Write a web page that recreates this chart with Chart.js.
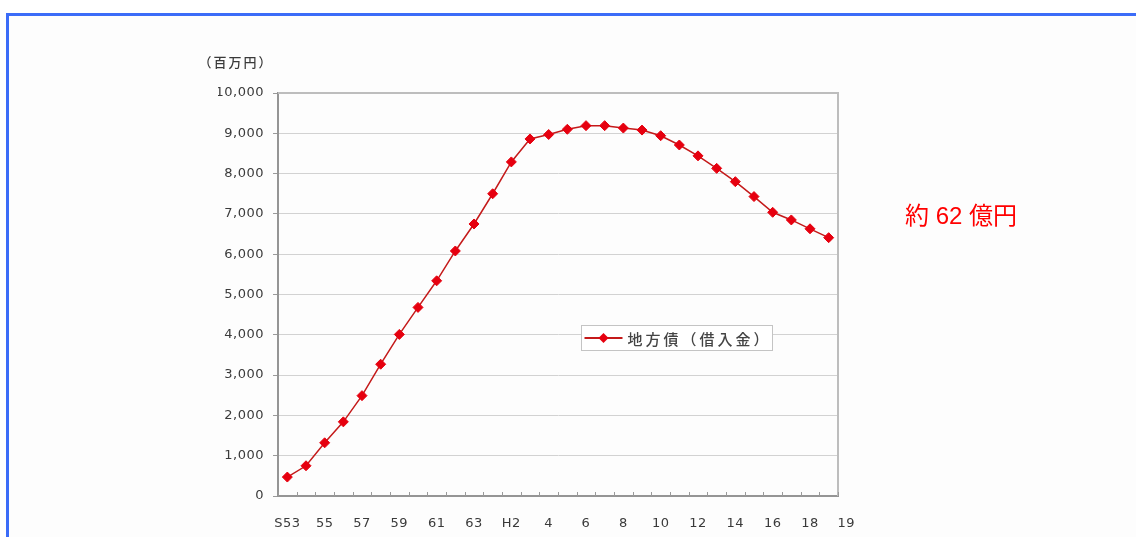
<!DOCTYPE html>
<html lang="ja">
<head>
<meta charset="utf-8">
<title>地方債（借入金）残高の推移</title>
<script src="https://cdn.jsdelivr.net/npm/chart.js@4.4.1/dist/chart.umd.min.js"></script>
<style>
  html, body { margin: 0; padding: 0; background: #fff; }
  body { width: 1136px; height: 537px; position: relative; overflow: hidden; }
  .panel {
    position: absolute; left: 6px; top: 13px; right: 0; bottom: 0;
    border-top: 3px solid #3b6cf8; border-left: 3px solid #3b6cf8;
    background: #fdfdfd;
  }
  .chart-box { position: absolute; left: 0; top: 0; width: 1136px; height: 537px; }
  .chart-box canvas { filter: blur(0.55px); }
  .note {
    position: absolute; left: 905px; top: 200px;
    font: 24px "Liberation Sans", "Noto Sans CJK JP", sans-serif;
    line-height: 32px; color: #f00; white-space: nowrap;
  }
</style>
</head>
<body>
<div class="panel"></div>
<div class="chart-box"><canvas id="debtChart"></canvas></div>
<div class="note">約 62 億円</div>

<script>
// Fiscal years S53 (1978) through H19 (2007)
const categories = ['S53','S54','S55','S56','S57','S58','S59','S60','S61','S62','S63',
  'H1','H2','H3','H4','H5','H6','H7','H8','H9','H10','H11','H12','H13','H14','H15',
  'H16','H17','H18','H19'];

// Labels printed under the axis (every other year, plus the last one pushed right)
const tickLabels = ['S53','','55','','57','','59','','61','','63','','H2','','4','',
  '6','','8','','10','','12','','14','','16','','18','\u2007\u2007\u2007\u200719'];

// Outstanding local bonds, million yen
const debtValues = [470, 750, 1320, 1840, 2490, 3270, 4010, 4680, 5340, 6080, 6750,
  7500, 8290, 8860, 8970, 9100, 9190, 9190, 9130, 9080, 8940, 8710, 8440, 8130,
  7800, 7430, 7040, 6850, 6630, 6410];

const seriesName = '地方債（借入金）';
const unitLabel = '（百万円）';
const yMin = 0, yMax = 10000, yStep = 1000;

const TEXT = '#3a3a3a';
const TICK_FONT = { family: '"DejaVu Sans", sans-serif', size: 13 };

// Slightly wider glyph spacing for the axis text
const textSpacing = {
  id: 'textSpacing',
  beforeDraw(chart) { chart.ctx.letterSpacing = '0.5px'; }
};

// Top/right frame of the plot area and inward tick marks on the category axis
const plotFrame = {
  id: 'plotFrame',
  beforeDatasetsDraw(chart) {
    const { ctx, chartArea: a, scales: { x } } = chart;
    ctx.save();
    ctx.strokeStyle = '#bdbdbd';
    ctx.lineWidth = 2;
    ctx.beginPath();
    ctx.moveTo(a.left, a.top);
    ctx.lineTo(a.right, a.top);
    ctx.lineTo(a.right, a.bottom);
    ctx.stroke();

    ctx.strokeStyle = '#9a9a9a';
    ctx.lineWidth = 1;
    ctx.beginPath();
    const n = chart.data.labels.length;
    for (let i = 0; i <= n; i++) {
      let px;
      if (i === 0) px = a.left;
      else if (i === n) px = a.right;
      else px = (x.getPixelForValue(i - 1) + x.getPixelForValue(i)) / 2;
      px = Math.round(px) + 0.5;
      ctx.moveTo(px, a.bottom);
      ctx.lineTo(px, a.bottom - 4);
    }
    ctx.stroke();
    ctx.restore();
  }
};

// Boxed legend inside the plot, plus the unit caption above the value axis
const boxLegend = {
  id: 'boxLegend',
  afterDraw(chart) {
    const { ctx, chartArea: a } = chart;
    const ds = chart.data.datasets[0];
    const left = a.left + 303.5, top = a.top + 232.5, w = 191, h = 25;
    const cy = top + h / 2;
    ctx.save();
    ctx.fillStyle = '#fff';
    ctx.fillRect(left, top, w, h);
    ctx.strokeStyle = '#c4c4c4';
    ctx.lineWidth = 1;
    ctx.strokeRect(left, top, w, h);

    ctx.strokeStyle = ds.borderColor;
    ctx.lineWidth = 2;
    ctx.beginPath();
    ctx.moveTo(left + 3, cy);
    ctx.lineTo(left + 41, cy);
    ctx.stroke();

    const mx = left + 22, r = 5;
    ctx.fillStyle = ds.pointBackgroundColor;
    ctx.beginPath();
    ctx.moveTo(mx, cy - r);
    ctx.lineTo(mx + r, cy);
    ctx.lineTo(mx, cy + r);
    ctx.lineTo(mx - r, cy);
    ctx.closePath();
    ctx.fill();

    ctx.letterSpacing = '3px';
    ctx.font = '500 15px "Noto Sans CJK JP", sans-serif';
    ctx.fillStyle = '#444';
    ctx.textBaseline = 'middle';
    ctx.textAlign = 'left';
    ctx.fillText(ds.label, left + 46, cy + 1);

    ctx.letterSpacing = '2px';
    ctx.font = '500 13px "Noto Sans CJK JP", sans-serif';
    ctx.fillStyle = TEXT;
    ctx.textAlign = 'center';
    ctx.fillText(unitLabel, a.left - 42, a.top - 31);
    ctx.restore();
  }
};

new Chart(document.getElementById('debtChart'), {
  type: 'line',
  data: {
    labels: categories,
    datasets: [{
      label: seriesName,
      data: debtValues,
      borderColor: '#c41a1a',
      borderWidth: 1.5,
      tension: 0,
      pointStyle: 'rectRot',
      pointRadius: 5,
      pointBackgroundColor: '#e6000f',
      pointBorderColor: '#e6000f',
      pointBorderWidth: 1
    }]
  },
  options: {
    responsive: true,
    maintainAspectRatio: false,
    animation: false,
    events: [],
    layout: { padding: { left: 218, top: 93, right: 298, bottom: 0 } },
    plugins: {
      legend: { display: false },
      tooltip: { enabled: false },
      title: { display: false }
    },
    scales: {
      x: {
        type: 'category',
        offset: true,
        afterFit(scale) { scale.height = 41; },
        grid: { display: false },
        border: { display: true, color: '#959595', width: 2 },
        ticks: {
          autoSkip: false,
          maxRotation: 0,
          minRotation: 0,
          padding: 12,
          color: TEXT,
          font: TICK_FONT,
          callback: (value, index) => tickLabels[index]
        }
      },
      y: {
        min: yMin,
        max: yMax,
        afterFit(scale) { scale.width = 60; },
        grid: {
          color: '#d2d2d2',
          lineWidth: 1,
          drawTicks: true,
          tickLength: 5,
          tickColor: '#9a9a9a'
        },
        border: { display: true, color: '#959595', width: 2 },
        ticks: {
          stepSize: yStep,
          padding: 9,
          color: TEXT,
          font: TICK_FONT,
          callback: (value) => value.toLocaleString('en-US')
        }
      }
    }
  },
  plugins: [textSpacing, plotFrame, boxLegend]
});
</script>
</body>
</html>
